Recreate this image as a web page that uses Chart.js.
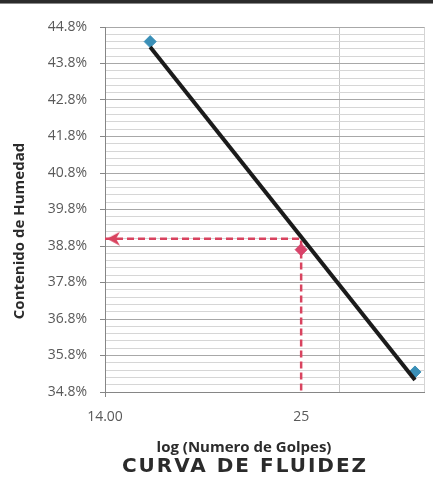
<!DOCTYPE html>
<html>
<head>
<meta charset="utf-8">
<script src="https://cdn.jsdelivr.net/npm/chart.js@4.4.1/dist/chart.umd.min.js"></script>
<style>
  html, body { margin: 0; padding: 0; background: #fff; }
  #wrap { position: relative; width: 433px; height: 487px; }
  #wrap canvas { position: absolute; left: 0; top: 0; }
  #rule { position: absolute; left: 0; top: 0; width: 433px; height: 3px; background: #2b2b2b; border-bottom: 1px solid #8a8a8a; }
</style>
</head>
<body>
<div id="wrap">
  <canvas id="chart" width="433" height="487"></canvas>
  <div id="rule"></div>
</div>
<script>
// ensayos: numero de golpes vs contenido de humedad (%)
const golpes = [16, 35];
const humedad = [44.4, 35.35];

// punto a 25 golpes (marcador rosado)
const golpesMedio = [25];
const humedadMedio = [38.7];

// linea de tendencia, extremos
const golpesTendencia = [16, 35];
const humedadTendencia = [44.25, 35.13];

// lectura a 25 golpes (flecha punteada)
const golpesLimite = [14, 25, 25];
const humedadLimite = [39.0, 39.0, 34.8];

// ejes
const xTicks = [14, 25, 28, 36];
const xTickLabels = ['14.00', '25', '', ''];
const yTickLabels = ['34.8%', '35.8%', '36.8%', '37.8%', '38.8%', '39.8%',
  '40.8%', '41.8%', '42.8%', '43.8%', '44.8%'];

const xTitle = 'log (Numero de Golpes)';
const yTitle = 'Contenido de Humedad';
const chartTitle = 'CURVA DE FLUIDEZ';

const toPoints = (xs, ys) => xs.map((x, i) => ({ x, y: ys[i] }));
const tickFont = { family: '"Open Sans"', size: 14 };
const clear = 'rgba(0,0,0,0)';

// punta de flecha: imagen centrada en el punto, la punta queda en el centro
function makeArrow() {
  const c = document.createElement('canvas');
  c.width = 34;
  c.height = 16;
  const g = c.getContext('2d');
  g.fillStyle = '#d9435f';
  g.beginPath();
  g.moveTo(19, 8);
  g.lineTo(32, 1);
  g.lineTo(28, 8);
  g.lineTo(32, 15);
  g.closePath();
  g.fill();
  return c;
}

const textos = {
  id: 'textos',
  afterDraw(chart) {
    const ctx = chart.ctx;
    ctx.save();
    ctx.fillStyle = '#2b2b2b';
    ctx.textAlign = 'center';
    ctx.textBaseline = 'middle';
    ctx.font = 'bold 15px "Open Sans"';
    ctx.fillText(xTitle, 244, 448);
    ctx.save();
    ctx.translate(20, 231);
    ctx.rotate(-Math.PI / 2);
    ctx.fillText(yTitle, 0, 0);
    ctx.restore();
    ctx.font = 'bold 20px "DejaVu Sans"';
    ctx.letterSpacing = '2px';
    ctx.fillText(chartTitle, 245, 467);
    ctx.restore();
  }
};

new Chart(document.getElementById('chart'), {
  type: 'scatter',
  data: {
    datasets: [
      {
        label: 'Tendencia',
        data: toPoints(golpesTendencia, humedadTendencia),
        showLine: true,
        borderColor: '#1b1b1b',
        borderWidth: 4,
        pointRadius: 0
      },
      {
        label: '25 golpes',
        data: toPoints(golpesMedio, humedadMedio),
        pointStyle: 'rectRot',
        pointRadius: 6,
        backgroundColor: '#d8436a',
        borderColor: '#d8436a'
      },
      {
        label: 'Ensayos',
        data: toPoints(golpes, humedad),
        pointStyle: 'rectRot',
        pointRadius: 6,
        backgroundColor: '#3a8fb7',
        borderColor: '#3a8fb7'
      },
      {
        label: 'Limite',
        data: toPoints(golpesLimite, humedadLimite),
        showLine: true,
        borderColor: '#d9435f',
        borderWidth: 2.5,
        borderDash: [7, 4],
        pointStyle: [makeArrow(), 'circle', 'circle'],
        pointRadius: [6, 0, 0]
      }
    ]
  },
  options: {
    responsive: false,
    animation: false,
    layout: { padding: { top: 27, right: 0, bottom: 65, left: 0 } },
    plugins: {
      legend: { display: false },
      tooltip: { enabled: false }
    },
    scales: {
      x: {
        type: 'logarithmic',
        min: 14,
        max: 36,
        afterBuildTicks: (s) => { s.ticks = xTicks.map(v => ({ value: v })); },
        afterFit: (s) => {
          s.height = 30;
          s.paddingLeft = 0;
          s.paddingRight = 0;
        },
        border: { color: '#868686' },
        grid: {
          color: (c) => c.tick && c.tick.value === 28 ? '#c8c8c8'
            : (c.tick && c.tick.value === 36 ? '#d4d4d4' : clear),
          tickLength: 5,
          tickColor: (c) => c.tick && c.tick.value === 14 ? '#868686' : clear
        },
        ticks: {
          autoSkip: false,
          maxRotation: 0,
          padding: 12,
          color: '#595959',
          font: tickFont,
          callback: (v, i) => xTickLabels[i]
        }
      },
      y: {
        min: 34.8,
        max: 44.8,
        afterBuildTicks: (s) => {
          s.ticks = [];
          for (let i = 0; i <= 50; i++) {
            s.ticks.push({ value: Math.round((34.8 + i * 0.2) * 10) / 10 });
          }
        },
        afterFit: (s) => { s.width = 105; },
        border: { color: '#868686' },
        grid: {
          color: (c) => c.index % 5 === 0 ? '#a8a8a8' : '#d6d6d6',
          tickLength: 5,
          tickColor: (c) => c.index % 5 === 0 ? '#868686' : clear
        },
        ticks: {
          autoSkip: false,
          padding: 13,
          color: '#595959',
          font: tickFont,
          callback: (v, i) => i % 5 === 0 ? yTickLabels[i / 5] : ''
        }
      }
    }
  },
  plugins: [textos]
});
</script>
</body>
</html>
